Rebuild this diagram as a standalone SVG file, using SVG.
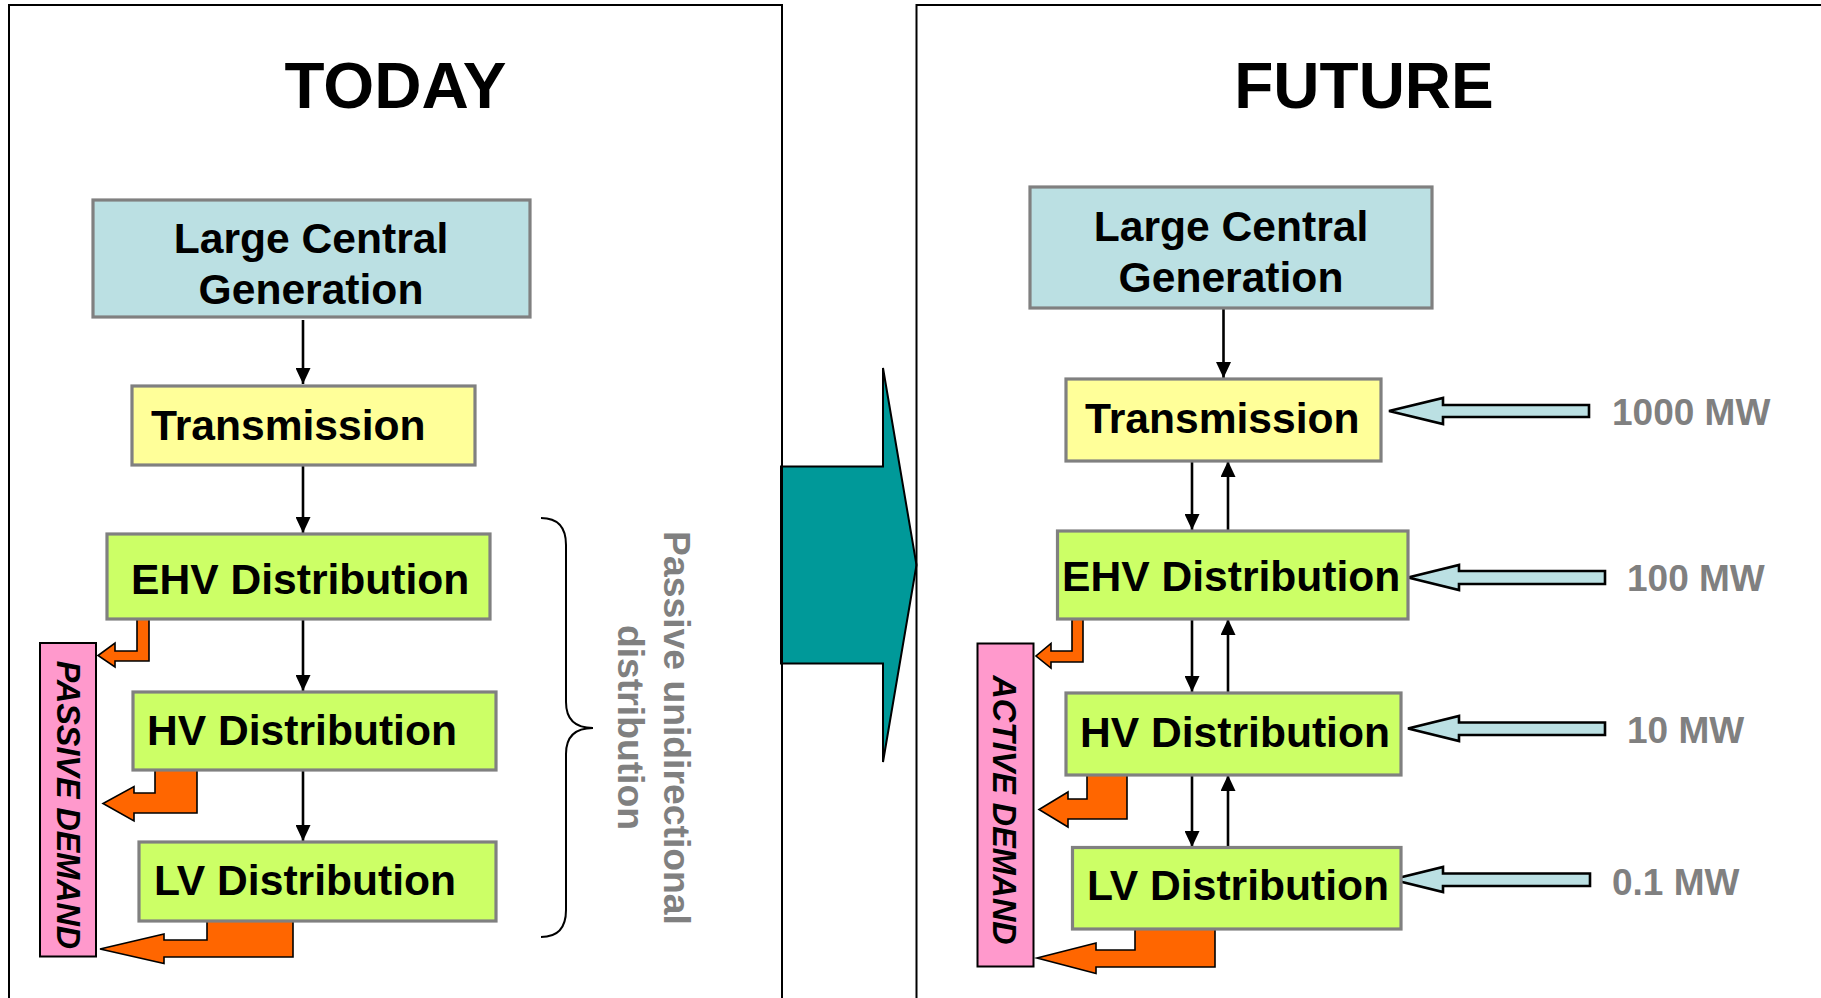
<svg xmlns="http://www.w3.org/2000/svg" width="1821" height="998" viewBox="0 0 1821 998">
  <style>
    .title { font-family: "Liberation Sans", Arial, sans-serif; font-weight: bold; font-size: 64px; fill: #000; text-anchor: middle; }
    .lbl { font-family: "Liberation Sans", Arial, sans-serif; font-weight: bold; font-size: 42.6px; fill: #000; }
    .mid { text-anchor: middle; }
    .mw { font-family: "Liberation Sans", Arial, sans-serif; font-weight: bold; font-size: 37px; fill: #808080; }
    .note { font-family: "Liberation Sans", Arial, sans-serif; font-weight: bold; font-size: 37.3px; fill: #808080; text-anchor: middle; }
    .demand { font-family: "Liberation Sans", Arial, sans-serif; font-weight: bold; font-style: italic; font-size: 32.3px; fill: #000; text-anchor: middle; }
    .panel { fill: none; stroke: #000; stroke-width: 2; }
    .box { stroke: #808080; stroke-width: 3.2; }
    .gen { fill: #BBE0E3; }
    .trans { fill: #FFFF99; }
    .dist { fill: #CCFF66; }
    .demandbar { fill: #FF99CC; stroke: #000; stroke-width: 2; }
    .flow { stroke: #000; stroke-width: 2.6; fill: none; }
    .load { fill: #FF6600; stroke: #000; stroke-width: 1.6; stroke-linejoin: miter; }
    .feed { fill: #BBE0E3; stroke: #000; stroke-width: 2.6; stroke-linejoin: miter; }
    .brace { fill: none; stroke: #000; stroke-width: 2; }
  </style>
  <defs>
    <marker id="head" viewBox="0 0 16 15" markerWidth="16" markerHeight="15" refX="16" refY="7.5" orient="auto" markerUnits="userSpaceOnUse">
      <path d="M0,0 L16,7.5 L0,15 Z" fill="#000"/>
    </marker>
  </defs>

  <rect x="0" y="0" width="1821" height="998" fill="#fff"/>

  <!-- transition arrow between the two panels -->
  <g id="transition-arrow">
    <polygon points="781,466.5 883,466.5 883,368 916.5,565 883,762 883,663.5 781,663.5" fill="#009999" stroke="#000" stroke-width="2" stroke-linejoin="miter"/>
  </g>

  <!-- panels -->
  <g id="panel-today">
    <rect class="panel" x="9" y="5" width="773" height="1020"/>
    <text class="title" x="395.5" y="108" style="font-size:65.5px">TODAY</text>
  </g>
  <g id="panel-future">
    <rect class="panel" x="916.5" y="5" width="930" height="1020"/>
    <text class="title" x="1364" y="108">FUTURE</text>
  </g>

  <!-- connectors -->
  <g id="connectors">
    <!-- today: one-way flow -->
    <line class="flow" x1="303" y1="320" x2="303" y2="384" marker-end="url(#head)"/>
    <line class="flow" x1="303" y1="466" x2="303" y2="533" marker-end="url(#head)"/>
    <line class="flow" x1="303" y1="620" x2="303" y2="691" marker-end="url(#head)"/>
    <line class="flow" x1="303" y1="771" x2="303" y2="841" marker-end="url(#head)"/>
    <!-- future: two-way flow -->
    <line class="flow" x1="1223.5" y1="309" x2="1223.5" y2="378" marker-end="url(#head)"/>
    <line class="flow" x1="1192" y1="462" x2="1192" y2="530" marker-end="url(#head)"/>
    <line class="flow" x1="1228" y1="530" x2="1228" y2="461" marker-end="url(#head)"/>
    <line class="flow" x1="1192" y1="620" x2="1192" y2="692" marker-end="url(#head)"/>
    <line class="flow" x1="1228" y1="692" x2="1228" y2="619" marker-end="url(#head)"/>
    <line class="flow" x1="1192" y1="776" x2="1192" y2="847" marker-end="url(#head)"/>
    <line class="flow" x1="1228" y1="847" x2="1228" y2="775" marker-end="url(#head)"/>

    <!-- today: demand offtakes -->
    <polygon class="load" points="137,619 149,619 149,661 115,661 115,667 98,655.5 115,643 115,651 137,651"/>
    <polygon class="load" points="155,770 197,770 197,813 134,813 134,821 103,803.5 134,786.5 134,793 155,793"/>
    <polygon class="load" points="207,920 293,920 293,957 164,957 164,963.5 100,949 164,934 164,940 207,940"/>
    <!-- future: demand offtakes -->
    <polygon class="load" points="1072,619 1083,619 1083,662 1051,662 1051,668 1036,656 1051,643.5 1051,651 1072,651"/>
    <polygon class="load" points="1087,775 1127,775 1127,819 1068,819 1068,827 1039,809.5 1068,792 1068,799 1087,799"/>
    <polygon class="load" points="1135,929 1215,929 1215,967 1096,967 1096,973.5 1037,958 1096,943 1096,950 1135,950"/>

    <!-- future: distributed infeed -->
    <polygon class="feed" points="1389,411 1443,398 1443,405 1589,405 1589,417 1443,417 1443,424"/>
    <polygon class="feed" points="1408,577.5 1459,565 1459,571 1605,571 1605,584 1459,584 1459,590"/>
    <polygon class="feed" points="1408,728.5 1459,716 1459,722.5 1605,722.5 1605,735 1459,735 1459,741"/>
    <polygon class="feed" points="1392,879.5 1443,867 1443,873.5 1590,873.5 1590,886 1443,886 1443,892"/>
  </g>

  <!-- today nodes -->
  <g id="today-generation">
    <rect class="box gen" x="93" y="200" width="437" height="117"/>
    <text class="lbl mid" x="311" y="253">Large Central</text>
    <text class="lbl mid" x="311" y="304">Generation</text>
  </g>
  <g id="today-transmission">
    <rect class="box trans" x="132" y="386" width="343" height="79"/>
    <text class="lbl" x="151" y="440">Transmission</text>
  </g>
  <g id="today-ehv">
    <rect class="box dist" x="107" y="534" width="383" height="85"/>
    <text class="lbl" x="131" y="594">EHV Distribution</text>
  </g>
  <g id="today-hv">
    <rect class="box dist" x="133" y="692" width="363" height="78"/>
    <text class="lbl" x="147" y="745">HV Distribution</text>
  </g>
  <g id="today-lv">
    <rect class="box dist" x="139" y="842" width="357" height="79"/>
    <text class="lbl" x="154" y="895">LV Distribution</text>
  </g>
  <g id="today-demand">
    <rect class="demandbar" x="40" y="643" width="56" height="313.5"/>
    <text class="demand" transform="translate(57,805) rotate(90)">PASSIVE DEMAND</text>
  </g>
  <g id="today-note">
    <path class="brace" d="M541,518 C557,518 566,526 566,545 L566,702 C566,719 574,728 593,728 C574,728 566,737 566,754 L566,910 C566,929 557,937 541,937"/>
    <text class="note" transform="translate(664,728) rotate(90)">Passive unidirectional</text>
    <text class="note" transform="translate(618,727.5) rotate(90)">distribution</text>
  </g>

  <!-- future nodes -->
  <g id="future-generation">
    <rect class="box gen" x="1030" y="187" width="402" height="121"/>
    <text class="lbl mid" x="1231" y="241">Large Central</text>
    <text class="lbl mid" x="1231" y="292">Generation</text>
  </g>
  <g id="future-transmission">
    <rect class="box trans" x="1066" y="379" width="315" height="82"/>
    <text class="lbl" x="1085" y="433">Transmission</text>
    <text class="mw" x="1612" y="425">1000 MW</text>
  </g>
  <g id="future-ehv">
    <rect class="box dist" x="1057.5" y="531" width="350.5" height="88"/>
    <text class="lbl" x="1062" y="591">EHV Distribution</text>
    <text class="mw" x="1627" y="591">100 MW</text>
  </g>
  <g id="future-hv">
    <rect class="box dist" x="1066" y="693" width="335" height="82"/>
    <text class="lbl" x="1080" y="747">HV Distribution</text>
    <text class="mw" x="1627" y="743">10 MW</text>
  </g>
  <g id="future-lv">
    <rect class="box dist" x="1072.5" y="847.5" width="328.5" height="81.5"/>
    <text class="lbl" x="1087" y="900">LV Distribution</text>
    <text class="mw" x="1612" y="895">0.1 MW</text>
  </g>
  <g id="future-demand">
    <rect class="demandbar" x="977.5" y="643.5" width="56" height="323"/>
    <text class="demand" transform="translate(993,810) rotate(90)">ACTIVE DEMAND</text>
  </g>
</svg>
